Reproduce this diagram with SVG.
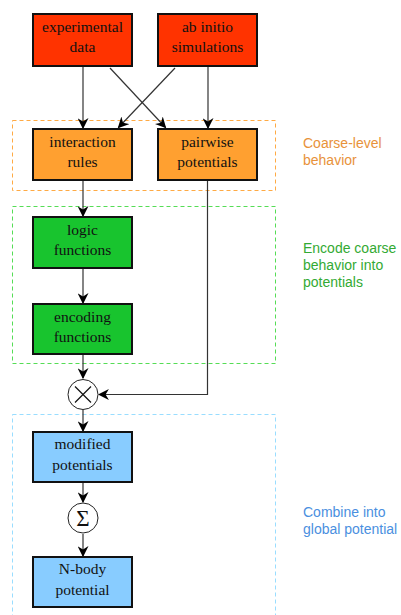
<svg xmlns="http://www.w3.org/2000/svg" width="401" height="615" viewBox="0 0 401 615">
<style>
.box{stroke:#111;stroke-width:2}
.red{fill:#ff3300}.org{fill:#ffa030}.grn{fill:#18c42e}.blu{fill:#88ccff}
.nt{font-family:"Liberation Serif","Times New Roman",serif;font-size:15.5px;fill:#111;text-anchor:middle}
.grp{fill:none;stroke-width:1;stroke-dasharray:4,3}
.lbl{font-family:"Liberation Sans",Arial,sans-serif;font-size:14px}
.c{fill:none;stroke:#333;stroke-width:1.2}
.op{fill:#fff;stroke:#222;stroke-width:1}
</style>
<defs>
<marker id="ah" viewBox="0 0 10 10" refX="9" refY="5" markerWidth="11" markerHeight="11" markerUnits="userSpaceOnUse" orient="auto">
<path d="M0,0 L10,5 L0,10 L3,5 Z" fill="#000"/>
</marker>
</defs>
<g id="groups">
<rect class="grp" x="12.5" y="120.5" width="263" height="70" stroke="#ffaa44"/>
<rect class="grp" x="12.5" y="206.5" width="263" height="157" stroke="#55dd55"/>
<rect class="grp" x="12.5" y="414.5" width="263" height="210" stroke="#99ddff"/>
<text class="lbl" x="303" y="148" fill="#e8923a">Coarse-level</text>
<text class="lbl" x="303" y="165" fill="#e8923a">behavior</text>
<text class="lbl" x="303" y="253" fill="#33aa33">Encode coarse</text>
<text class="lbl" x="303" y="270" fill="#33aa33">behavior into</text>
<text class="lbl" x="303" y="287" fill="#33aa33">potentials</text>
<text class="lbl" x="303" y="517" fill="#4a8fe0">Combine into</text>
<text class="lbl" x="303" y="534" fill="#4a8fe0">global potential</text>
</g>
<g id="connectors">
<line class="c" x1="83" y1="67" x2="83" y2="128" marker-end="url(#ah)"/>
<line class="c" x1="110" y1="68" x2="165.5" y2="127.5" marker-end="url(#ah)"/>
<line class="c" x1="175" y1="68" x2="118.5" y2="127.5" marker-end="url(#ah)"/>
<line class="c" x1="208" y1="67" x2="208" y2="128" marker-end="url(#ah)"/>
<line class="c" x1="83" y1="181" x2="83" y2="216" marker-end="url(#ah)"/>
<line class="c" x1="83" y1="269" x2="83" y2="303" marker-end="url(#ah)"/>
<line class="c" x1="83" y1="355" x2="83" y2="378" marker-end="url(#ah)"/>
<polyline class="c" points="207.5,181 207.5,394.5 99,394.5" marker-end="url(#ah)"/>
<line class="c" x1="83" y1="410" x2="83" y2="431" marker-end="url(#ah)"/>
<line class="c" x1="83" y1="483" x2="83" y2="502" marker-end="url(#ah)"/>
<line class="c" x1="83" y1="534" x2="83" y2="556" marker-end="url(#ah)"/>
</g>
<g id="experimental">
<rect class="box red" x="33" y="14" width="99" height="52"/>
<text class="nt" x="82.5" y="32">experimental</text>
<text class="nt" x="82.5" y="52">data</text>
</g>
<g id="abinitio">
<rect class="box red" x="158" y="14" width="99" height="52"/>
<text class="nt" x="207.5" y="32">ab initio</text>
<text class="nt" x="207.5" y="52">simulations</text>
</g>
<g id="interaction">
<rect class="box org" x="33" y="129" width="99" height="51"/>
<text class="nt" x="82.5" y="147">interaction</text>
<text class="nt" x="82.5" y="167">rules</text>
</g>
<g id="pairwise">
<rect class="box org" x="158" y="129" width="99" height="51"/>
<text class="nt" x="207.5" y="147">pairwise</text>
<text class="nt" x="207.5" y="167">potentials</text>
</g>
<g id="logic">
<rect class="box grn" x="33" y="217" width="99" height="51"/>
<text class="nt" x="82.5" y="235">logic</text>
<text class="nt" x="82.5" y="255">functions</text>
</g>
<g id="encoding">
<rect class="box grn" x="33" y="304" width="99" height="50"/>
<text class="nt" x="82.5" y="322">encoding</text>
<text class="nt" x="82.5" y="342">functions</text>
</g>
<g id="times">
<circle class="op" cx="83" cy="394.5" r="15"/>
<path d="M75,386.5 L91,402.5 M91,386.5 L75,402.5" stroke="#111" stroke-width="1.2"/>
</g>
<g id="modified">
<rect class="box blu" x="33" y="432" width="99" height="50"/>
<text class="nt" x="82.5" y="449">modified</text>
<text class="nt" x="82.5" y="470">potentials</text>
</g>
<g id="sum">
<circle class="op" cx="83" cy="518" r="15"/>
<text x="83" y="526" font-family="'Liberation Serif',serif" font-size="23" text-anchor="middle" fill="#111">Σ</text>
</g>
<g id="nbody">
<rect class="box blu" x="33" y="557" width="99" height="50"/>
<text class="nt" x="82.5" y="574">N-body</text>
<text class="nt" x="82.5" y="595">potential</text>
</g>
</svg>
